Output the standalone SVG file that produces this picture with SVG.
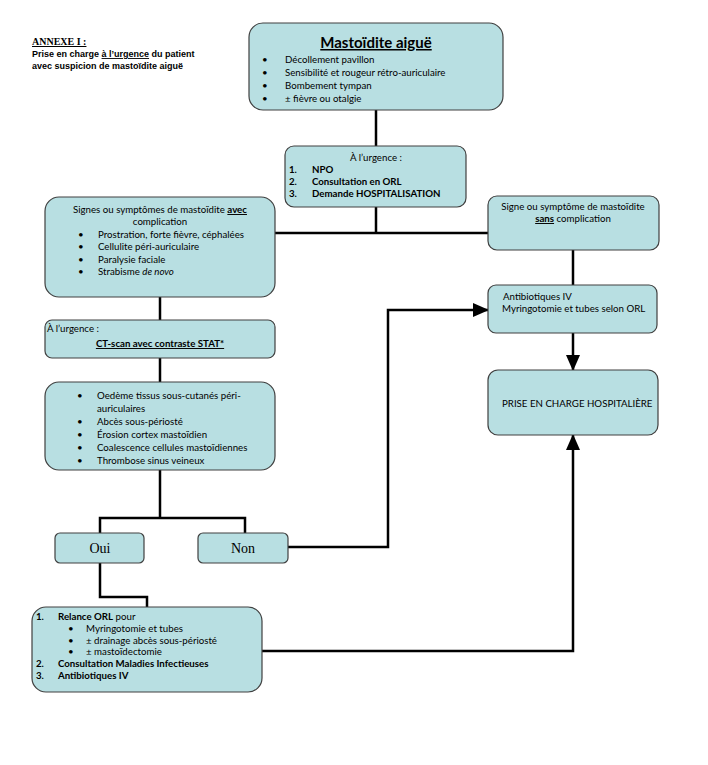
<svg xmlns="http://www.w3.org/2000/svg" width="708" height="765" viewBox="0 0 708 765">
<defs>
<marker id="ah" markerUnits="userSpaceOnUse" markerWidth="16" markerHeight="16" viewBox="0 0 16 16" refX="15" refY="8" orient="auto">
<path d="M0,1 L16,8 L0,15 Z" fill="#000"/>
</marker>
<style>
.box{fill:#b8dfe2;stroke:#404040;stroke-width:1.2}
.t{font-family:Lato,"Open Sans","Liberation Sans",sans-serif;font-size:9.7px;fill:#000}
.b{font-weight:bold}
.u{text-decoration:underline}
.c{text-anchor:middle}
.big{font-size:15px}
.ln{fill:none;stroke:#000;stroke-width:2.5}
.tr{font-family:"Liberation Serif",serif;font-size:14px;fill:#000;text-anchor:middle}
.hd{font-family:"Liberation Sans",Arial,sans-serif;font-size:9px;font-weight:bold;fill:#000}
</style>
</defs>
<rect width="708" height="765" fill="#fff"/>
<g id="title">
<text x="32" y="45" font-family="Liberation Serif,serif" font-size="10" font-weight="bold" text-decoration="underline">ANNEXE I :</text>
<text class="hd" x="32" y="57">Prise en charge <tspan class="u">à l’urgence</tspan> du patient</text>
<text class="hd" x="32" y="69">avec suspicion de mastoïdite aiguë</text>
</g>
<g id="connectors">
<path class="ln" d="M376,110 V146"/>
<path class="ln" d="M376,207 V233"/>
<path class="ln" d="M275,233 H488"/>
<path class="ln" d="M573,250 V285"/>
<path class="ln" d="M573,333 V370" marker-end="url(#ah)"/>
<path class="ln" d="M160,297 V320"/>
<path class="ln" d="M160,358 V382"/>
<path class="ln" d="M160,470 V518"/>
<path class="ln" d="M100,533 V518 H245 V533"/>
<path class="ln" d="M288,547 H388 V310 H488" marker-end="url(#ah)"/>
<path class="ln" d="M100,563 V597 H147 V608"/>
<path class="ln" d="M262,651 H573 V435" marker-end="url(#ah)"/>
</g>
<g id="n-mastoidite">
<rect class="box" x="249" y="23" width="254" height="87" rx="14"/>
<text class="t b u c big" x="376" y="48">Mastoïdite aiguë</text>
<text class="t" x="262" y="63">•</text><text class="t" x="285" y="63">Décollement pavillon</text>
<text class="t" x="262" y="76">•</text><text class="t" x="285" y="76">Sensibilité et rougeur rétro-auriculaire</text>
<text class="t" x="262" y="89">•</text><text class="t" x="285" y="89">Bombement tympan</text>
<text class="t" x="262" y="102">•</text><text class="t" x="285" y="102">± fièvre ou otalgie</text>
</g>
<g id="n-urgence">
<rect class="box" x="285" y="146" width="181" height="61" rx="9"/>
<text class="t c" x="376" y="161">À l’urgence :</text>
<text class="t b" x="289" y="173">1.</text><text class="t b" x="312" y="173">NPO</text>
<text class="t b" x="289" y="185">2.</text><text class="t b" x="312" y="185">Consultation en ORL</text>
<text class="t b" x="289" y="197">3.</text><text class="t b" x="312" y="197">Demande HOSPITALISATION</text>
</g>
<g id="n-avec">
<rect class="box" x="45" y="197" width="230" height="100" rx="14"/>
<text class="t c" x="160" y="213">Signes ou symptômes de mastoïdite <tspan class="b u">avec</tspan></text>
<text class="t c" x="160" y="225">complication</text>
<text class="t" x="78" y="238">•</text><text class="t" x="98" y="238">Prostration, forte fièvre, céphalées</text>
<text class="t" x="78" y="250">•</text><text class="t" x="98" y="250">Cellulite péri-auriculaire</text>
<text class="t" x="78" y="263">•</text><text class="t" x="98" y="263">Paralysie faciale</text>
<text class="t" x="78" y="275">•</text><text class="t" x="98" y="275">Strabisme <tspan font-style="italic">de novo</tspan></text>
</g>
<g id="n-sans">
<rect class="box" x="488" y="196" width="171" height="54" rx="9"/>
<text class="t c" x="573" y="210">Signe ou symptôme de mastoïdite</text>
<text class="t c" x="573" y="222"><tspan class="b u">sans</tspan> complication</text>
</g>
<g id="n-antibio">
<rect class="box" x="488" y="285" width="169" height="48" rx="8"/>
<text class="t" x="503" y="300">Antibiotiques IV</text>
<text class="t" x="502" y="312">Myringotomie et tubes selon ORL</text>
</g>
<g id="n-prise">
<rect class="box" x="488" y="370" width="170" height="65" rx="10"/>
<text class="t" x="502" y="407">PRISE EN CHARGE HOSPITALIÈRE</text>
</g>
<g id="n-ct">
<rect class="box" x="45" y="320" width="230" height="38" rx="7"/>
<text class="t" x="47" y="332">À l’urgence :</text>
<text class="t b u c" x="160" y="347">CT-scan avec contraste STAT*</text>
</g>
<g id="n-findings">
<rect class="box" x="45" y="382" width="230" height="88" rx="14"/>
<text class="t" x="77" y="399">•</text><text class="t" x="97" y="399">Oedème tissus sous-cutanés péri-</text>
<text class="t" x="97" y="412">auriculaires</text>
<text class="t" x="77" y="425">•</text><text class="t" x="97" y="425">Abcès sous-périosté</text>
<text class="t" x="77" y="438">•</text><text class="t" x="97" y="438">Érosion cortex mastoïdien</text>
<text class="t" x="77" y="451">•</text><text class="t" x="97" y="451">Coalescence cellules mastoïdiennes</text>
<text class="t" x="77" y="464">•</text><text class="t" x="97" y="464">Thrombose sinus veineux</text>
</g>
<g id="n-oui">
<rect class="box" x="55" y="533" width="89" height="30" rx="5"/>
<text class="tr" x="100" y="553">Oui</text>
</g>
<g id="n-non">
<rect class="box" x="198" y="533" width="90" height="30" rx="5"/>
<text class="tr" x="243" y="553">Non</text>
</g>
<g id="n-relance">
<rect class="box" x="32" y="607" width="230" height="85" rx="14"/>
<text class="t b" x="36" y="620">1.</text><text class="t" x="58" y="620"><tspan class="b">Relance ORL</tspan> pour</text>
<text class="t" x="68" y="632">•</text><text class="t" x="86" y="632">Myringotomie et tubes</text>
<text class="t" x="68" y="644">•</text><text class="t" x="86" y="644">± drainage abcès sous-périosté</text>
<text class="t" x="68" y="655">•</text><text class="t" x="86" y="655">± mastoïdectomie</text>
<text class="t b" x="36" y="667">2.</text><text class="t b" x="58" y="667">Consultation Maladies Infectieuses</text>
<text class="t b" x="36" y="679">3.</text><text class="t b" x="58" y="679">Antibiotiques IV</text>
</g>
</svg>
